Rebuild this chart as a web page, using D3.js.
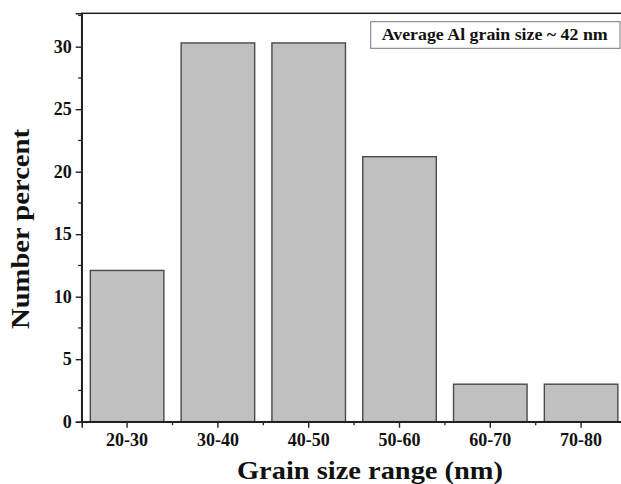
<!DOCTYPE html>
<html>
<head>
<meta charset="utf-8">
<script src="https://cdn.jsdelivr.net/npm/d3@7/dist/d3.min.js"></script>
<style>
  html, body { margin: 0; padding: 0; background: #fff; }
  svg { display: block; }
  text { font-family: "Liberation Serif", "Times New Roman", serif; font-weight: bold; fill: #111; }
</style>
</head>
<body>
<svg id="chart" width="621" height="484"></svg>
<script>
// Grain size distribution (number percent per size range)
const categories = ["20-30", "30-40", "40-50", "50-60", "60-70", "70-80"];
const numberPercent = [12.1, 30.3, 30.3, 21.2, 3.0, 3.0];
const yMajorTicks = [0, 5, 10, 15, 20, 25, 30];
const yMinorTicks = [2.5, 7.5, 12.5, 17.5, 22.5, 27.5, 32.5];
const yMax = 32.67;
const legendText = "Average Al grain size ~ 42 nm";
const xTitle = "Grain size range (nm)";
const yTitle = "Number percent";

const svg = d3.select("#chart");
const plot = { left: 81.7, right: 626.5, top: 13.3, bottom: 421.7 };

const x = d3.scaleBand()
  .domain(categories)
  .range([plot.left, plot.right])
  .paddingInner(0.19)
  .paddingOuter(0.095);

const y = d3.scaleLinear()
  .domain([0, yMax])
  .range([plot.bottom, plot.top]);

// Bars
svg.append("g")
  .selectAll("rect")
  .data(categories.map((c, i) => ({ c, v: numberPercent[i] })))
  .join("rect")
  .attr("x", d => x(d.c))
  .attr("y", d => y(d.v))
  .attr("width", x.bandwidth())
  .attr("height", d => y(0) - y(d.v))
  .attr("fill", "#c0c0c0")
  .attr("stroke", "#4a4a4a")
  .attr("stroke-width", 1.4);

// Frame (top edge; right edge lies past the canvas)
svg.append("rect")
  .attr("x", plot.left).attr("y", plot.top)
  .attr("width", plot.right - plot.left)
  .attr("height", plot.bottom - plot.top)
  .attr("fill", "none")
  .attr("stroke", "#222")
  .attr("stroke-width", 1.5);

// Y axis
const yAxis = svg.append("g").attr("transform", `translate(${plot.left},0)`);
yAxis.call(d3.axisLeft(y).tickValues(yMajorTicks).tickSize(6).tickPadding(4).tickFormat(d3.format("d")));
yAxis.attr("font-family", null).attr("font-size", null);
yAxis.select(".domain").attr("stroke", "#222").attr("stroke-width", 1.5);
yAxis.selectAll(".tick line").attr("stroke", "#222").attr("stroke-width", 1.4);
yAxis.selectAll(".tick text").style("font-size", "18px");
yAxis.selectAll(".minor")
  .data(yMinorTicks.filter(v => v <= yMax))
  .join("line")
  .attr("class", "minor")
  .attr("x1", 0).attr("x2", -3.5)
  .attr("y1", d => y(d)).attr("y2", d => y(d))
  .attr("stroke", "#222").attr("stroke-width", 1.3);

// X axis: major ticks at category centres, minor ticks at category edges
const xAxis = svg.append("g").attr("transform", `translate(0,${plot.bottom})`);
xAxis.call(d3.axisBottom(x).tickSize(6).tickPadding(6));
xAxis.attr("font-family", null).attr("font-size", null);
xAxis.select(".domain").attr("stroke", "#222").attr("stroke-width", 1.5);
xAxis.selectAll(".tick line").attr("stroke", "#222").attr("stroke-width", 1.4);
xAxis.selectAll(".tick text").style("font-size", "18px");
const edges = categories.map(c => x(c) - x.step() * x.paddingInner() / 2).slice(1);
xAxis.selectAll(".minor")
  .data(edges)
  .join("line")
  .attr("class", "minor")
  .attr("x1", d => d).attr("x2", d => d)
  .attr("y1", 0).attr("y2", 3.5)
  .attr("stroke", "#222").attr("stroke-width", 1.3);

// Axis titles
svg.append("text")
  .attr("x", 370).attr("y", 479)
  .attr("text-anchor", "middle")
  .attr("textLength", 266)
  .attr("lengthAdjust", "spacingAndGlyphs")
  .style("font-size", "26px")
  .text(xTitle);

svg.append("text")
  .attr("transform", "translate(28.5,229) rotate(-90)")
  .attr("text-anchor", "middle")
  .attr("textLength", 200)
  .attr("lengthAdjust", "spacingAndGlyphs")
  .style("font-size", "26px")
  .text(yTitle);

// Annotation box
svg.append("rect")
  .attr("x", 370.7).attr("y", 21.7)
  .attr("width", 249.3).attr("height", 26.6)
  .attr("fill", "#fff")
  .attr("stroke", "#777")
  .attr("stroke-width", 1);
svg.append("text")
  .attr("x", 381.7).attr("y", 39.5)
  .attr("textLength", 226)
  .attr("lengthAdjust", "spacingAndGlyphs")
  .style("font-size", "17px")
  .text(legendText);
</script>
</body>
</html>
